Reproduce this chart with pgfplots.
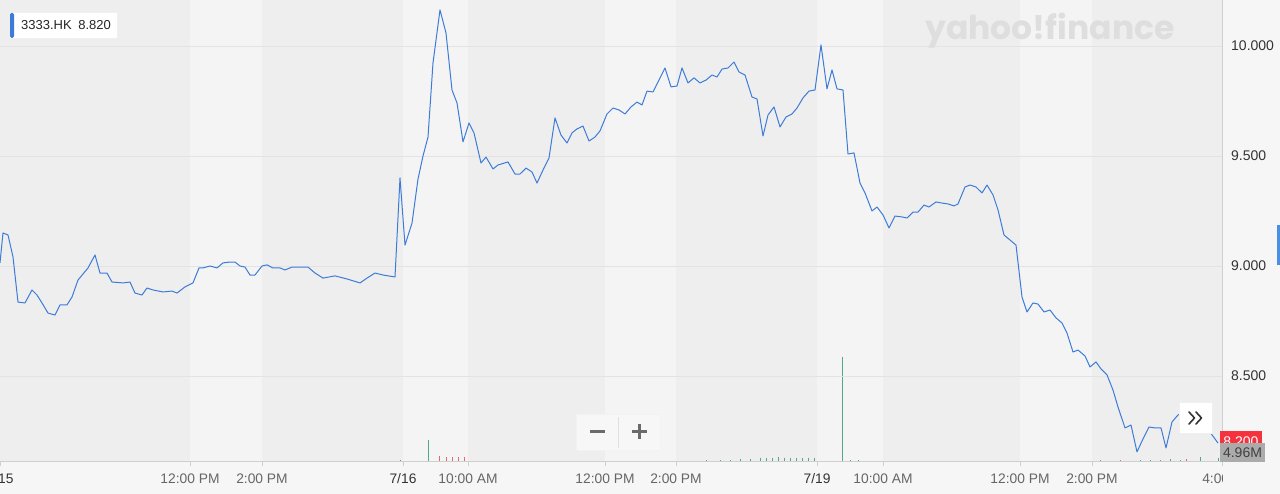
\documentclass[border=0pt]{standalone}
\usepackage{pgfplots}
\pgfplotsset{compat=1.18}
\usepackage{fontspec}
\setmainfont{Liberation Sans}
\newfontfamily\wmfont{Poppins}
\definecolor{bgout}{HTML}{F6F6F6}
\definecolor{banddark}{HTML}{EEEEEE}
\definecolor{bandlight}{HTML}{F4F4F4}
\definecolor{gridc}{HTML}{E3E3E3}
\definecolor{linec}{HTML}{3D7BD9}
\definecolor{volg}{HTML}{4FA98F}
\definecolor{volr}{HTML}{E36A6A}
\definecolor{ylab}{HTML}{333333}
\definecolor{xlab}{HTML}{666666}
\definecolor{datec}{HTML}{333333}
\definecolor{axc}{HTML}{CFCFCF}
\definecolor{redbox}{HTML}{F5333F}
\definecolor{graybox}{HTML}{ABABAB}
\definecolor{edgeblue}{HTML}{4A90E2}
\begin{document}
\begin{tikzpicture}[x=1pt,y=1pt]
\useasboundingbox (0,-32) rectangle (1280,462);
\clip (0,-32) rectangle (1280,462);
\fill[bgout] (0,-32) rectangle (1280,462);
% background bands
\fill[banddark] (0,0) rectangle (1222,462);
\foreach \a/\b in {190/262,403/468,605/676,817/883,1020/1092}{\fill[bandlight] (\a,0) rectangle (\b,462);}
% volume axis
\begin{axis}[at={(0,0)}, anchor=south west, scale only axis,
  width=1222pt, height=462pt, xmin=0, xmax=1222, ymin=0, ymax=573, hide axis]
\addplot[ycomb, volg, line width=0.9pt, mark=none] coordinates {
(400,2.5) (428,27.3) (706,2) (720,2.5) (730,3) (740,3.5) (750,4) (760,5) (766,5)
(772,5) (778,6) (784,5) (790,5) (796,5) (802,5) (808,5) (814,5) (842,130) (850,3)
(858,2) (1140,3) (1150,3) (1160,3) (1170,4) (1180,3) (1200,6.2) (1218,5)};
\addplot[ycomb, volr, line width=0.9pt, mark=none] coordinates {
(439,7) (446,6) (452,6) (458,6) (464,6) (1100,3) (1120,2.5) (1186,4)};
\end{axis}
% price axis
\begin{axis}[at={(0,0)}, anchor=south west, scale only axis,
  width=1222pt, height=462pt,
  xmin=0, xmax=1222, ymin=8.1091, ymax=10.209,
  axis line style={draw=none},
  axis background/.style={fill=none},
  ytick={8.5,9,9.5,10}, yticklabels={8.500,9.000,9.500,10.000},
  yticklabel pos=right,
  yticklabel style={anchor=west, inner sep=0pt, xshift=5pt, text=ylab, font=\fontsize{14}{16}\selectfont},
  ytick style={draw=none},
  ymajorgrids, grid style={gridc, line width=0.9pt},
  xtick={0,190,262,403,468,605,676,817,883,1020,1092,1222},
  xticklabels={\textcolor{datec}{7/15},12:00 PM,2:00 PM,\textcolor{datec}{7/16},10:00 AM,12:00 PM,2:00 PM,\textcolor{datec}{7/19},10:00 AM,12:00 PM,2:00 PM,\hspace*{12pt}4:00 PM},
  xticklabel style={anchor=center, inner sep=0pt, yshift=-12.5pt, text=xlab, font=\fontsize{13.8}{15}\selectfont},
  tick align=outside, major tick length=4pt,
  xtick style={draw=axc, line width=0.8pt},
  clip=false]
\addplot[linec, line width=1pt, line join=round, mark=none] coordinates {
(0,9.014) (3,9.150) (8,9.141) (13,9.041) (18,8.836) (25,8.832) (32,8.891) (37,8.868)
(42,8.832) (48,8.786) (55,8.777) (60,8.823) (67,8.823) (72,8.859) (78,8.936) (88,8.991)
(95,9.050) (100,8.968) (107,8.968) (112,8.927) (123,8.923) (130,8.927) (135,8.877)
(142,8.868) (147,8.900) (153,8.891) (163,8.882) (172,8.886) (177,8.877) (185,8.905)
(193,8.923) (199,8.991) (203,8.991) (210,9.000) (217,8.991) (223,9.014) (230,9.018)
(235,9.018) (240,9.000) (245,8.995) (250,8.959) (255,8.959) (262,9.000) (267,9.005)
(273,8.991) (280,8.991) (285,8.982) (292,8.995) (308,8.995) (315,8.968) (323,8.945)
(335,8.955) (347,8.941) (360,8.923) (367,8.945) (375,8.968) (383,8.959) (395,8.950)
(400,9.400) (405,9.095) (412,9.195) (418,9.395) (423,9.500) (428,9.586) (433,9.923)
(440,10.164) (446,10.059) (452,9.800) (457,9.741) (463,9.564) (469,9.650) (474,9.605)
(481,9.468) (486,9.495) (493,9.441) (498,9.459) (508,9.473) (515,9.418) (520,9.418)
(526,9.445) (532,9.427) (537,9.377) (543,9.436) (549,9.491) (555,9.673) (561,9.595)
(567,9.559) (572,9.605) (577,9.623) (583,9.636) (589,9.568) (595,9.586) (600,9.614)
(607,9.691) (613,9.718) (619,9.709) (625,9.691) (631,9.723) (637,9.745) (642,9.732)
(647,9.795) (653,9.791) (659,9.845) (665,9.900) (671,9.814) (677,9.818) (682,9.900)
(688,9.832) (694,9.855) (700,9.832) (706,9.845) (712,9.868) (717,9.859) (722,9.895)
(728,9.900) (734,9.927) (739,9.882) (745,9.868) (752,9.768) (757,9.759) (763,9.591)
(768,9.686) (774,9.723) (780,9.632) (786,9.677) (792,9.691) (797,9.718) (803,9.764)
(809,9.795) (815,9.800)
(821,10.005) (827,9.805) (832,9.891) (837,9.805) (843,9.800) (848,9.509) (854,9.514)
(860,9.377) (865,9.332) (872,9.250) (877,9.268) (883,9.232) (889,9.173) (895,9.227)
(902,9.223) (907,9.218) (913,9.245) (918,9.245) (924,9.277) (929,9.268) (936,9.291)
(942,9.286) (948,9.282) (954,9.273) (958,9.282) (965,9.359) (970,9.368) (976,9.359)
(982,9.332) (987,9.368) (993,9.323) (998,9.255) (1004,9.141) (1010,9.118) (1016,9.095)
(1022,8.859) (1027,8.791) (1033,8.832) (1038,8.827) (1044,8.791) (1050,8.800)
(1056,8.764) (1062,8.741) (1067,8.695) (1073,8.609) (1078,8.618) (1085,8.591)
(1090,8.541) (1096,8.564) (1101,8.532) (1107,8.505) (1113,8.436) (1118,8.359)
(1125,8.264) (1131,8.277) (1137,8.155) (1143,8.214) (1149,8.268) (1155,8.264)
(1161,8.264) (1166,8.173) (1172,8.291) (1178,8.323) (1184,8.336) (1190,8.377)
(1196,8.368) (1202,8.345) (1210,8.245) (1218,8.195)};
\end{axis}
% axis lines
\draw[axc, line width=1pt] (0,0) -- (1222,0);
\draw[axc, line width=1pt] (1222,0) -- (1222,462);
% hide the part of the last time label beyond the plot
\fill[bgout] (1223,-31) rectangle (1280,-4);
% legend box
\fill[black!6] (9.5,423) rectangle (118,449.5);
\fill[white] (10,424) rectangle (117,449);
\fill[linec, rounded corners=1.5pt] (10,424) rectangle (14,449);
\node[anchor=west, inner sep=0pt, text=black!85, font=\fontsize{13}{15}\selectfont] at (21,436.5) {3333.HK\enspace 8.820};
% watermark
\node[inner sep=0pt, text=black!13, font=\wmfont\bfseries\fontsize{33}{36}\selectfont] at (1050,431) {yahoo!finance};
% zoom buttons
\fill[black!5] (576,11) rectangle (661,48);
\fill[black!3] (577,12) rectangle (660,47);
\draw[black!12, line width=0.8pt] (618.5,14) -- (618.5,45);
\draw[black!58, line width=3pt] (590,30) -- (605,30);
\draw[black!58, line width=3pt] (632,30) -- (647,30);
\draw[black!58, line width=3pt] (639.5,22.5) -- (639.5,37.5);
% >> button
\fill[black!6] (1179,28) rectangle (1213,60);
\fill[white] (1180,29) rectangle (1212,59);
\draw[black!80, line width=1.6pt, line cap=round, line join=round] (1189,50) -- (1194.5,44) -- (1189,38);
\draw[black!80, line width=1.6pt, line cap=round, line join=round] (1196,50) -- (1201.5,44) -- (1196,38);
% price & volume boxes
\fill[redbox] (1220,10) rectangle (1262,31);
\node[inner sep=0pt, text=white, font=\fontsize{14}{16}\selectfont] at (1241,20.5) {8.200};
\fill[graybox] (1220,0) rectangle (1265,19);
\node[inner sep=0pt, text=black!75, font=\fontsize{14}{16}\selectfont] at (1242.5,9.5) {4.96M};
% small mark at the right edge
\fill[edgeblue] (1277,197) rectangle (1280,237);
\end{tikzpicture}
\end{document}
